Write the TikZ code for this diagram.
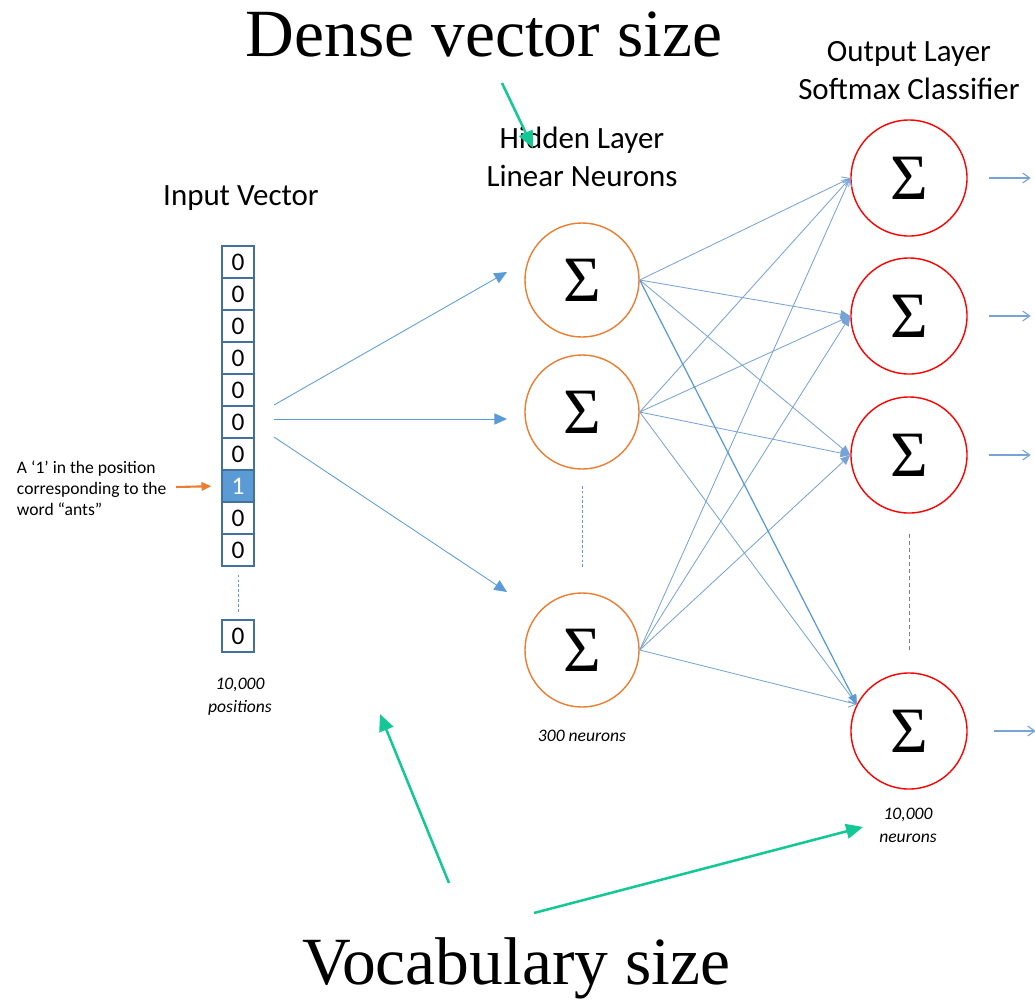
\documentclass[tikz,border=0pt]{standalone}
\usepackage{fontspec}
\setmainfont{Carlito}
\newfontfamily\serifbig{Liberation Serif}
\usetikzlibrary{arrows.meta,positioning,calc}
\definecolor{edgeblue}{RGB}{91,155,213}
\definecolor{lineblue}{RGB}{120,163,214}
\definecolor{cellborder}{RGB}{65,113,156}
\definecolor{neuronorange}{RGB}{237,125,49}
\definecolor{notegreen}{RGB}{20,200,150}
\tikzset{
    	every node/.append style={font=\fontsize{12.5}{15}\selectfont}}

\begin{document}
\begin{tikzpicture}
  [x=0.025cm,y=-0.025cm,
   cell/.style={draw=cellborder,line width=0.9pt,minimum size=0.8cm,inner sep=0pt,font=\fontsize{18}{18}\selectfont},
   hidden/.style={circle,draw=neuronorange,line width=1pt,minimum size=2.85cm,inner sep=0pt,font=\serifbig\fontsize{46}{46}\selectfont},
   outnode/.style={hidden,draw=red,minimum size=2.9cm},
   heading/.style={align=center,font=\fontsize{22}{27}\selectfont},
   bigtext/.style={font=\serifbig\fontsize{48}{52}\selectfont},
   count/.style={align=center,font=\itshape\fontsize{12.5}{16.3}\selectfont},
   wire/.style={draw=lineblue,line width=0.6pt},
   openhead/.style={-{Straight Barb[length=5pt,width=7pt]}},
   fullhead/.style={-{Triangle[length=7pt,width=6pt]}},
   greenarrow/.style={draw=notegreen,line width=1.8pt,-{Triangle[length=12pt,width=10.5pt]}}]
  \useasboundingbox (0,0) rectangle (1035,1002);

  \node [bigtext] (dense) at (484,34) {Dense vector size};
  \node [bigtext] (vocab) at (516,968) {Vocabulary size};
  \node [heading] (inlabel) at (241,198) {Input Vector};
  \node [heading] (hidlabel) at (582,157) {Hidden Layer\\Linear Neurons};
  \node [heading] (outlabel) at (909,71) {Output Layer\\Softmax Classifier};

  \foreach \i in {1,...,7,9,10}
    \node [cell] (c\i) at (238,{230+32*\i}) {0};
  \node [cell,fill=edgeblue,text=white] (c8) at (238,486) {1};
  \node [cell] (cl) at (238,636) {0};
  \node [count] (positions) at (240,697) {10,000\\positions};
  \node [align=left,anchor=west] (note) at (12,488) {A ‘1’ in the position\\corresponding to the\\word “ants”};

  \node [hidden] (h1) at (582,280) {Σ};
  \node [hidden] (h2) at (582,412) {Σ};
  \node [hidden] (h3) at (582,650) {Σ};
  \node [count] (hcount) at (582,736) {300 neurons};

  \node [outnode] (o1) at (909,178) {Σ};
  \node [outnode] (o2) at (909,316) {Σ};
  \node [outnode] (o3) at (909,455) {Σ};
  \node [outnode] (o4) at (909,731) {Σ};
  \node [count] (ocount) at (908,825) {10,000\\neurons};

  \coordinate (ptr) at (176,487);
  \draw [neuronorange,line width=1.5pt,-{Triangle[length=7pt,width=6pt]},shorten >=0.25cm] (ptr) -- (c8.west);

  \coordinate (a1) at (274,405);
  \coordinate (a2) at (274,419);
  \coordinate (a3) at (274,437);
  \coordinate (b1) at (507,272);
  \coordinate (b2) at (507,419);
  \coordinate (b3) at (507,592);
  \foreach \from/\to in {a1/b1,a2/b2,a3/b3}
    \draw [wire,draw=edgeblue,-{Triangle[length=9pt,width=8pt]}] (\from) -- (\to);

  \foreach \from/\to in {h1/o1.west,h2/o1.west,h3/o1.west,h2/o4.153,h3/o4.153}
    \draw [wire,openhead] (\from.east) -- (\to);
  \foreach \from/\to in {h1/o2.west,h2/o2.west,h3/o2.west,h1/o3.west,h2/o3.west,h3/o3.west}
    \draw [wire,fullhead] (\from.east) -- (\to);
  \draw [wire,draw=edgeblue,line width=0.9pt,fullhead] (h1.east) -- (o4.153);

  \foreach \i in {1,2,3}
    \draw [wire,openhead,line width=0.8pt] ([xshift=0.525cm]o\i.east) -- ([xshift=1.575cm]o\i.east);
  \draw [wire,openhead,line width=0.8pt] ([xshift=0.65cm]o4.east) -- ([xshift=1.7cm]o4.east);

  \draw [edgeblue,line width=0.6pt,dash pattern=on 2pt off 1.5pt,shorten <=0.2cm,shorten >=0.15cm] (c10) -- (cl);
  \draw [edgeblue,line width=0.6pt,dash pattern=on 2pt off 1.5pt,shorten <=0.4cm,shorten >=0.575cm] (h2) -- (h3);
  \draw [gray,line width=0.6pt,dash pattern=on 3pt off 2pt,shorten <=0.5cm,shorten >=0.5cm] (o3) -- (o4);

  \coordinate (d0) at (502,83);
  \coordinate (d1) at (533,148);
  \coordinate (v0) at (449,883);
  \coordinate (v1) at (380,714);
  \coordinate (v2) at (534,913);
  \coordinate (v3) at (863,827);
  \foreach \from/\to in {d0/d1,v0/v1,v2/v3}
    \draw [greenarrow] (\from) -- (\to);
\end{tikzpicture}
\end{document}
